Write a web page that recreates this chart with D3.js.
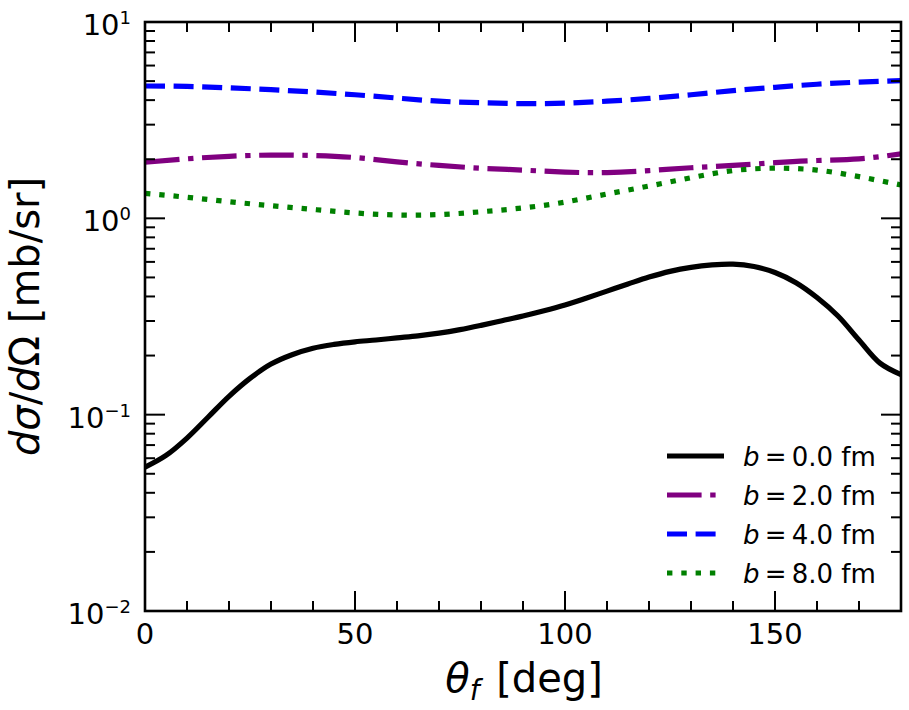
<!DOCTYPE html>
<html>
<head>
<meta charset="utf-8">
<script src="https://cdn.jsdelivr.net/npm/d3@7/dist/d3.min.js"></script>
<style>
  body { margin: 0; background: #fff; }
  svg { display: block; }
  text { font-family: "DejaVu Sans", sans-serif; fill: #000; }
</style>
</head>
<body>
<div id="chart"></div>
<script>
// angles (deg) for the b = 0 curve, read every 5 degrees
var thetaFine = [0,5,10,15,20,25,30,35,40,45,50,55,60,65,70,75,80,85,90,
                 95,100,105,110,115,120,125,130,135,140,145,150,155,160,165,170,175,180];
var b0 = [0.054,0.062,0.076,0.097,0.124,0.153,0.181,0.202,0.218,0.228,0.235,0.240,0.246,0.252,
          0.260,0.271,0.285,0.301,0.318,0.338,0.362,0.392,0.426,0.463,0.502,0.537,0.563,0.579,
          0.584,0.568,0.530,0.470,0.395,0.318,0.240,0.183,0.160];

// angles (deg) for the flatter curves, read every 10 degrees
var theta = [0,10,20,30,40,50,60,70,80,90,100,110,120,130,140,150,160,170,180];
var b2 = [1.93,2.01,2.07,2.10,2.09,2.04,1.94,1.86,1.80,1.76,1.72,1.71,1.75,1.81,1.86,1.92,1.97,2.01,2.13];
var b4 = [4.72,4.70,4.62,4.52,4.40,4.26,4.10,3.95,3.88,3.84,3.86,3.95,4.08,4.26,4.47,4.65,4.82,4.94,5.03];
var b8 = [1.34,1.28,1.215,1.16,1.11,1.065,1.04,1.045,1.08,1.13,1.21,1.33,1.46,1.61,1.75,1.80,1.76,1.63,1.48];

var xTicks = [0, 50, 100, 150];
var yTicks = [1e-2, 1e-1, 1, 10];
var yTickExp = ["\u22122", "\u22121", "0", "1"];
var bLabels = ["0.0", "2.0", "4.0", "8.0"];

var W = 909, H = 710;
var m = {left: 145, top: 22, right: 8, bottom: 99};
var pw = W - m.left - m.right, ph = H - m.top - m.bottom;

var x = d3.scaleLinear().domain([0, 180]).range([0, pw]);
var y = d3.scaleLog().domain([1e-2, 10]).range([ph, 0]);

var svg = d3.select("#chart").append("svg").attr("width", W).attr("height", H);
var g = svg.append("g").attr("transform", "translate(" + m.left + "," + m.top + ")");

svg.append("defs").append("clipPath").attr("id", "clip")
  .append("rect").attr("width", pw).attr("height", ph);

var series = [
  {xs: thetaFine, ys: b0, color: "#000000", dash: null, curve: d3.curveCatmullRom.alpha(0.5)},
  {xs: theta, ys: b2, color: "#800080", dash: "34.6,8.6,5.4,8.6", curve: d3.curveNatural},
  {xs: theta, ys: b4, color: "#0000ff", dash: "20,8.6", curve: d3.curveNatural},
  {xs: theta, ys: b8, color: "#008000", dash: "5.4,8.9", curve: d3.curveNatural}
];

var plot = g.append("g").attr("clip-path", "url(#clip)");
series.forEach(function(s){
  var line = d3.line()
    .x(function(d){ return x(d[0]); })
    .y(function(d){ return y(d[1]); })
    .curve(s.curve);
  plot.append("path")
    .datum(d3.zip(s.xs, s.ys))
    .attr("d", line)
    .attr("fill", "none")
    .attr("stroke", s.color)
    .attr("stroke-width", 5.2)
    .attr("stroke-dasharray", s.dash);
});

// ticks, pointing inward on all four sides
var majLen = 20, minLen = 10, tickW = 2;
var xMinor = d3.range(0, 181, 10).filter(function(v){ return xTicks.indexOf(v) < 0; });
var yMinor = [];
[1e-2, 1e-1, 1].forEach(function(dec){
  for (var k = 2; k <= 9; k++) yMinor.push(dec * k);
});

function hTick(v, len, isTop) {
  var px = x(v);
  g.append("line").attr("x1", px).attr("x2", px)
    .attr("y1", isTop ? 0 : ph).attr("y2", isTop ? len : ph - len)
    .attr("stroke", "#000").attr("stroke-width", tickW);
}
function vTick(v, len, isRight) {
  var py = y(v);
  g.append("line").attr("y1", py).attr("y2", py)
    .attr("x1", isRight ? pw : 0).attr("x2", isRight ? pw - len : len)
    .attr("stroke", "#000").attr("stroke-width", tickW);
}
xTicks.forEach(function(v){ hTick(v, majLen, false); hTick(v, majLen, true); });
xMinor.forEach(function(v){ hTick(v, minLen, false); hTick(v, minLen, true); });
yTicks.forEach(function(v){ vTick(v, majLen, false); vTick(v, majLen, true); });
yMinor.forEach(function(v){ vTick(v, minLen, false); vTick(v, minLen, true); });

// frame
g.append("rect").attr("width", pw).attr("height", ph)
  .attr("fill", "none").attr("stroke", "#000").attr("stroke-width", 2.6);

// tick labels
xTicks.forEach(function(v){
  g.append("text").attr("x", x(v)).attr("y", ph + 33)
    .attr("text-anchor", "middle").style("font-size", "29px").text(v);
});
yTicks.forEach(function(v, i){
  var t = g.append("text").attr("x", -14).attr("y", y(v) + 13)
    .attr("text-anchor", "end").style("font-size", "29px");
  t.append("tspan").text("10");
  t.append("tspan").attr("dy", -11).style("font-size", "18px").text(yTickExp[i]);
});

// axis labels
var xl = svg.append("text").attr("x", m.left + pw / 2 + 1).attr("y", 692)
  .attr("text-anchor", "middle").style("font-size", "40px");
xl.append("tspan").style("font-style", "italic").text("\u03b8");
xl.append("tspan").attr("dy", 8).style("font-style", "italic").style("font-size", "28px").text("f");
xl.append("tspan").attr("dy", -8).attr("dx", 4).text(" [deg]");

var yl = svg.append("text")
  .attr("transform", "translate(39," + (m.top + ph / 2) + ") rotate(-90)")
  .attr("text-anchor", "middle").style("font-size", "40px");
yl.append("tspan").style("font-style", "italic").text("d\u03c3");
yl.append("tspan").text("/");
yl.append("tspan").style("font-style", "italic").text("d");
yl.append("tspan").text("\u03a9 [mb/sr]");

// legend, no frame
var leg = svg.append("g");
var rowY = [456, 495, 534, 573];
series.forEach(function(s, i){
  leg.append("line").attr("x1", 667).attr("x2", 724)
    .attr("y1", rowY[i]).attr("y2", rowY[i])
    .attr("stroke", s.color).attr("stroke-width", 5.2)
    .attr("stroke-dasharray", s.dash);
  var t = leg.append("text").attr("x", 743).attr("y", rowY[i] + 10)
    .style("font-size", "26px");
  t.append("tspan").style("font-style", "italic").text("b");
  t.append("tspan").text("\u2009=\u2009" + bLabels[i] + " fm");
});
</script>
</body>
</html>
